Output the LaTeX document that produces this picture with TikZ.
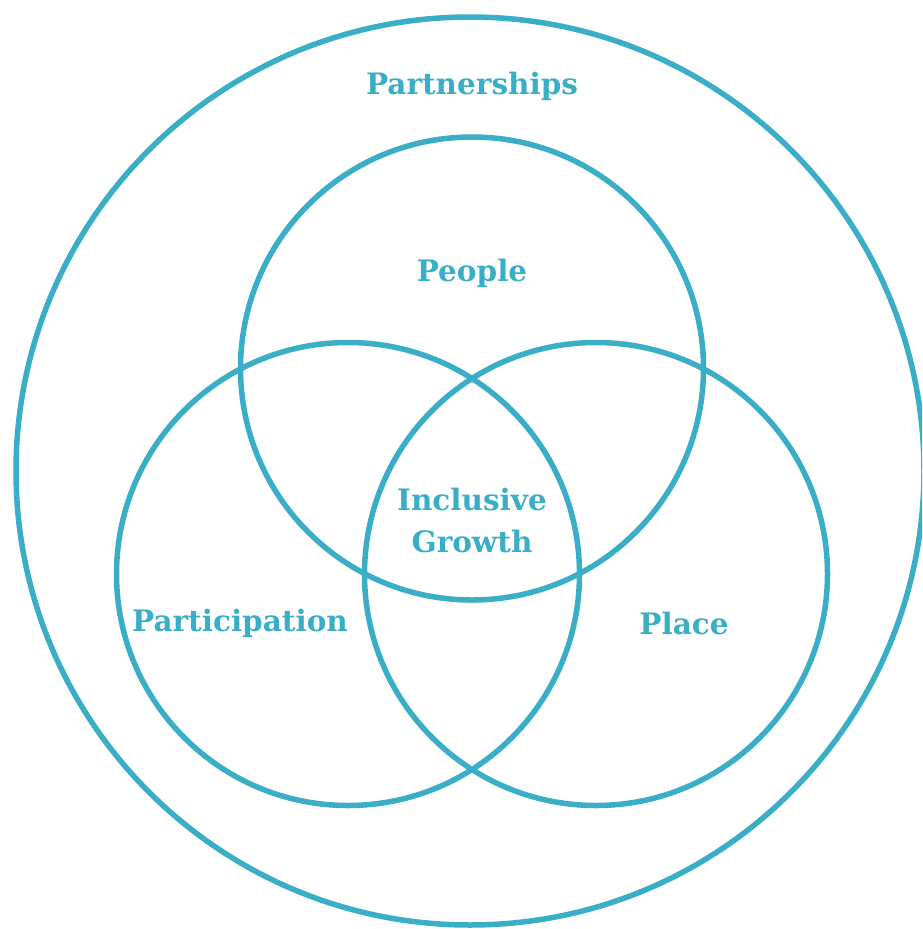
\documentclass[tikz,border=0pt]{standalone}
\usepackage{fontspec}
\setmainfont{DejaVu Serif}
\definecolor{teal}{HTML}{3AAEC7}
\begin{document}
\begin{tikzpicture}[x=1pt,y=-1pt,
  ring/.style={draw=teal,line width=5.5pt},
  lbl/.style={text=teal,font=\bfseries\fontsize{29.5}{42}\selectfont,align=center,inner sep=0pt}]
\useasboundingbox (0,0) rectangle (922,929);
\clip (0,0) rectangle (922,929);
\draw[ring] (470,471) circle[radius=454];
\draw[ring] (472,368.5) circle[radius=231.5];
\draw[ring] (348,574) circle[radius=231.5];
\draw[ring] (596,574) circle[radius=231.5];
\node[lbl] (partnerships) at (472,86) {Partnerships};
\node[lbl] (people) at (472,273) {People};
\node[lbl] (growth) at (472,520) {Inclusive\\Growth};
\node[lbl] (participation) at (240,623) {Participation};
\node[lbl] (place) at (684,623) {Place};
\end{tikzpicture}
\end{document}
